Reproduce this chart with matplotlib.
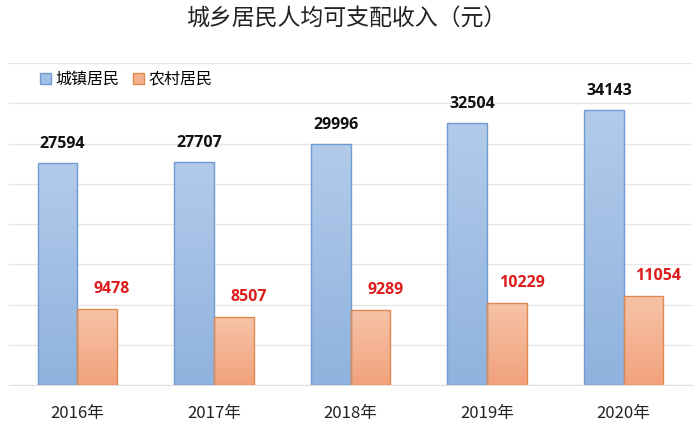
import matplotlib.pyplot as plt
import numpy as np
from matplotlib.colors import LinearSegmentedColormap
from matplotlib.patches import Patch

plt.rcParams['font.family'] = ['Noto Sans CJK SC', 'DejaVu Sans']

years = ['2016年', '2017年', '2018年', '2019年', '2020年']
urban = [27594, 27707, 29996, 32504, 34143]
rural = [9478, 8507, 9289, 10229, 11054]
title = '城乡居民人均可支配收入（元）'
names = ['城镇居民', '农村居民']

fig = plt.figure(figsize=(7, 4.22), dpi=100)
ax = fig.add_axes([9 / 700, 37 / 422, 683 / 700, 322 / 422])

x = np.arange(len(years))
w = 0.29
b1 = ax.bar(x - w / 2, urban, w, color='#9dbde4', edgecolor='#6f9bd0', linewidth=1, zorder=3)
b2 = ax.bar(x + w / 2, rural, w, color='#f4b08f', edgecolor='#e0894f', linewidth=1, zorder=3)

# 渐变填充
cm_blue = LinearSegmentedColormap.from_list('b', ['#8fb2de', '#b2cbea'])
cm_orange = LinearSegmentedColormap.from_list('o', ['#f2a27c', '#f6c3a8'])
grad = np.linspace(0, 1, 256).reshape(-1, 1)
for bars, cm in [(b1, cm_blue), (b2, cm_orange)]:
    for r in bars:
        x0, y0 = r.get_x(), r.get_y()
        im = ax.imshow(grad, cmap=cm, aspect='auto', origin='lower',
                       extent=[x0, x0 + r.get_width(), y0, y0 + r.get_height()], zorder=3.5)
        im.set_clip_path(r)
        r.set_facecolor('none')
        r.set_zorder(4)

for r, v in zip(b1, urban):
    ax.annotate(str(v), (r.get_x() + r.get_width() / 2, v), xytext=(5, 11), textcoords='offset pixels',
                ha='center', va='bottom', fontsize=11.5, fontweight='bold', color='#111111',
                family=['Open Sans', 'DejaVu Sans'])
for r, v in zip(b2, rural):
    ax.annotate(str(v), (r.get_x() + r.get_width() / 2, v), xytext=(15, 12), textcoords='offset pixels',
                ha='center', va='bottom', fontsize=11.5, fontweight='bold', color='#dd1c1c',
                family=['Open Sans', 'DejaVu Sans'])

ax.set_xlim(-0.5, len(years) - 0.5)
ax.set_ylim(0, 40000)
ax.set_yticks(np.arange(0, 40001, 5000))
ax.yaxis.grid(True, color='#e6e6e6', linewidth=1, zorder=0)
ax.tick_params(axis='y', left=False, labelleft=False)
ax.tick_params(axis='x', bottom=False, labelsize=12, pad=11, colors='#222222')
ax.set_xticks(x)
ax.set_xticklabels(years)
for s in ['top', 'right', 'left']:
    ax.spines[s].set_visible(False)
ax.spines['bottom'].set_color('#e0e0e0')

handles = [Patch(facecolor='#a3c0e6', edgecolor='#6f9bd0'), Patch(facecolor='#f4b08f', edgecolor='#e0894f')]
ax.legend(handles, names, loc='upper left', bbox_to_anchor=(0.024, 1.02), ncol=2, frameon=False, fontsize=11.5,
          handlelength=0.7, handleheight=0.7, handletextpad=0.25, columnspacing=0.9)

fig.text(0.494, 0.958, title, ha='center', va='center', fontsize=16.5, color='#222222')

fig.savefig('out.png', dpi=100)
